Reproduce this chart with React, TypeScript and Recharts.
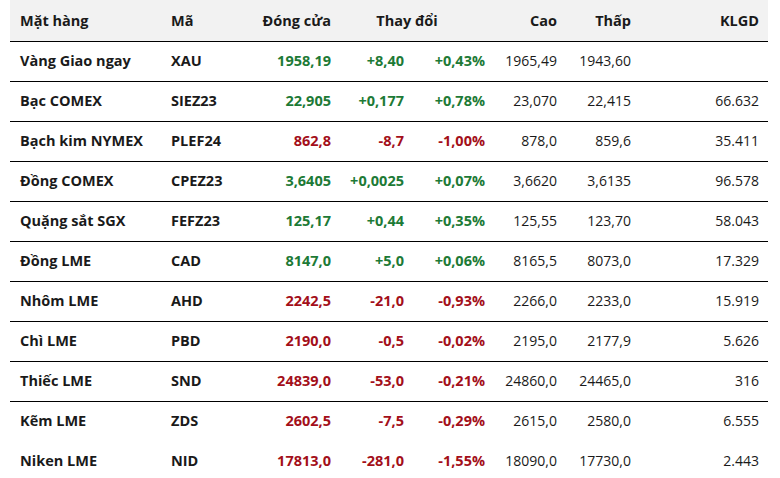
import { ComposedChart, XAxis, YAxis, Scatter, ReferenceLine, ReferenceArea } from "recharts";

const headers = ["Mặt hàng", "Mã", "Đóng cửa", "Thay đổi", "Cao", "Thấp", "KLGD"];

const names = [
  "Vàng Giao ngay",
  "Bạc COMEX",
  "Bạch kim NYMEX",
  "Đồng COMEX",
  "Quặng sắt SGX",
  "Đồng LME",
  "Nhôm LME",
  "Chì LME",
  "Thiếc LME",
  "Kẽm LME",
  "Niken LME",
];
const codes = ["XAU", "SIEZ23", "PLEF24", "CPEZ23", "FEFZ23", "CAD", "AHD", "PBD", "SND", "ZDS", "NID"];
const closes = ["1958,19", "22,905", "862,8", "3,6405", "125,17", "8147,0", "2242,5", "2190,0", "24839,0", "2602,5", "17813,0"];
const changes = ["+8,40", "+0,177", "-8,7", "+0,0025", "+0,44", "+5,0", "-21,0", "-0,5", "-53,0", "-7,5", "-281,0"];
const changePcts = ["+0,43%", "+0,78%", "-1,00%", "+0,07%", "+0,35%", "+0,06%", "-0,93%", "-0,02%", "-0,21%", "-0,29%", "-1,55%"];
const highs = ["1965,49", "23,070", "878,0", "3,6620", "125,55", "8165,5", "2266,0", "2195,0", "24860,0", "2615,0", "18090,0"];
const lows = ["1943,60", "22,415", "859,6", "3,6135", "123,70", "8073,0", "2233,0", "2177,9", "24465,0", "2580,0", "17730,0"];
const volumes = ["", "66.632", "35.411", "96.578", "58.043", "17.329", "15.919", "5.626", "316", "6.555", "2.443"];

const GREEN = "#1d7a36";
const RED = "#a30f1a";
const INK = "#1a1a1a";
const FONT = "'Open Sans', sans-serif";

// column layout: anchor x in px, alignment, weight, coloured by change sign
const columns = [
  { values: names, x: 20, align: "start", bold: true, signed: false },
  { values: codes, x: 171, align: "start", bold: true, signed: false },
  { values: closes, x: 331, align: "end", bold: true, signed: true },
  { values: changes, x: 404, align: "end", bold: true, signed: true },
  { values: changePcts, x: 485, align: "end", bold: true, signed: true },
  { values: highs, x: 557, align: "end", bold: false, signed: false },
  { values: lows, x: 631, align: "end", bold: false, signed: false },
  { values: volumes, x: 759, align: "end", bold: false, signed: false },
];

const headerLayout = [
  { x: 20, align: "start" },
  { x: 171, align: "start" },
  { x: 331, align: "end" },
  { x: 407, align: "middle" },
  { x: 557, align: "end" },
  { x: 631, align: "end" },
  { x: 759, align: "end" },
];

const headerPoints = headers.map((h, i) => ({ x: headerLayout[i].x, y: 0, text: h, align: headerLayout[i].align }));

const makeCell = (bold: boolean, signed: boolean) => (props: any) => {
  const { cx, cy, payload } = props;
  let fill = INK;
  if (signed) fill = changes[payload.row].startsWith("-") ? RED : GREEN;
  return (
    <text
      x={cx}
      y={cy + 5}
      textAnchor={payload.align}
      fontFamily={FONT}
      fontSize={bold ? 14.5 : 14}
      fontWeight={bold ? 700 : 400}
      fill={fill}
    >
      {payload.text}
    </text>
  );
};

const headerCell = (props: any) => {
  const { cx, cy, payload } = props;
  return (
    <text x={cx} y={cy + 5} textAnchor={payload.align} fontFamily={FONT} fontSize={14.5} fontWeight={700} fill={INK}>
      {payload.text}
    </text>
  );
};

const App = () => {
  return (
    <div style={{ width: 780, height: 478, background: "#fff" }}>
      <style>{`body{margin:0}`}</style>
      <ComposedChart width={780} height={478} margin={{ top: 0, right: 12, bottom: 0, left: 10 }}>
        <XAxis type="number" dataKey="x" domain={[10, 768]} hide />
        <YAxis type="number" dataKey="y" domain={[-0.525, 11.425]} reversed hide />
        <ReferenceArea y1={-0.525} y2={0.5} fill="#f2f2f2" fillOpacity={1} stroke="none" />
        {names.slice(0, -1).map((_, i) => (
          <ReferenceLine key={i} y={i + 0.5125} stroke="#000" strokeWidth={1} />
        ))}
        <Scatter data={headerPoints} shape={headerCell} isAnimationActive={false} />
        {columns.map((c, ci) => (
          <Scatter
            key={ci}
            data={c.values.map((v, r) => ({ x: c.x, y: r + 1, text: v, align: c.align, row: r }))}
            shape={makeCell(c.bold, c.signed)}
            isAnimationActive={false}
          />
        ))}
      </ComposedChart>
    </div>
  );
};

export default App;
